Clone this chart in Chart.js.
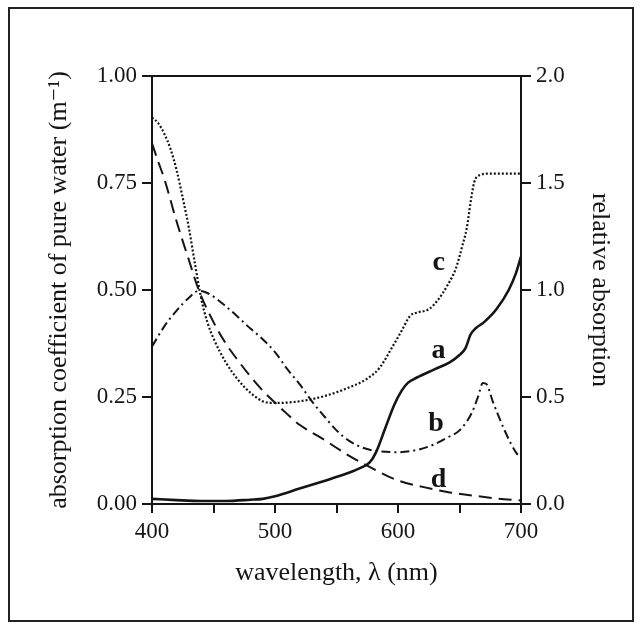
<!DOCTYPE html>
<html><head><meta charset="utf-8">
<script src="https://cdn.jsdelivr.net/npm/chart.js@4.4.0/dist/chart.umd.min.js"></script>
<style>html,body{margin:0;padding:0;background:#fff;}</style>
</head><body>
<canvas id="c" width="642" height="630" style="width:642px;height:630px;display:block"></canvas>
<script>
// a: absorption coefficient of pure water (m^-1), left axis
const waveA  = [400,420,440,460,480,490,500,520,540,560,570,577,582,590,597,603,608,615,630,642,650,655,659,663,670,680,690,696,700];
const waterA = [0.012,0.009,0.007,0.007,0.010,0.012,0.018,0.036,0.054,0.073,0.085,0.097,0.120,0.180,0.232,0.265,0.283,0.295,0.315,0.331,0.348,0.365,0.396,0.410,0.425,0.455,0.500,0.540,0.578];
// b: relative absorption (right axis)
const waveB = [400,410,420,430,438,445,460,480,490,500,510,520,530,540,550,560,570,580,600,618,630,640,650,660,665,669,672,677,687,696,700];
const relB  = [0.736,0.830,0.904,0.964,0.996,0.986,0.924,0.820,0.770,0.710,0.630,0.560,0.480,0.410,0.344,0.296,0.266,0.250,0.242,0.256,0.280,0.310,0.344,0.426,0.500,0.566,0.560,0.480,0.340,0.240,0.216];
// c: relative absorption (right axis)
const waveC = [400,405,410,415,420,425,430,435,440,445,450,460,470,480,490,500,520,540,560,575,585,595,603,610,615,625,632,640,647,652,656,659,662,666,675,700];
const relC  = [1.806,1.780,1.730,1.660,1.560,1.430,1.290,1.120,0.960,0.850,0.774,0.662,0.580,0.520,0.480,0.472,0.480,0.504,0.544,0.586,0.636,0.730,0.810,0.880,0.894,0.910,0.950,1.020,1.100,1.200,1.292,1.410,1.504,1.536,1.544,1.544];
// d: relative absorption (right axis)
const waveD = [400,405,410,420,430,438,450,460,470,480,490,500,510,520,540,560,580,600,620,640,660,680,700];
const relD  = [1.686,1.600,1.520,1.320,1.140,1.000,0.850,0.750,0.670,0.596,0.530,0.474,0.420,0.370,0.300,0.226,0.164,0.110,0.080,0.056,0.040,0.026,0.016];

const xTicks = [400,500,600,700];
const curveNames  = ['c','a','b','d'];
const curveLabelX = [633,633,631,633];
const curveLabelY = [0.547,0.341,0.171,0.040];

const INK = '#151515';
const SERIF = '"Liberation Serif","DejaVu Serif",serif';

const pts = (xs, ys) => xs.map((x,i)=>({x, y: ys[i]}));

const framePlugin = {
  id: 'frame',
  beforeDraw(chart){
    const ctx = chart.ctx;
    ctx.save(); ctx.fillStyle='#fff'; ctx.fillRect(0,0,chart.width,chart.height); ctx.restore();
  },
  afterDraw(chart){
    const ctx = chart.ctx, xs = chart.scales.x, ys = chart.scales.y;
    ctx.save();
    ctx.strokeStyle = '#222'; ctx.lineWidth = 2;
    ctx.strokeRect(9, 8, 624, 613);
    // top border of plot box
    ctx.strokeStyle = INK; ctx.lineWidth = 2;
    ctx.beginPath();
    ctx.moveTo(xs.getPixelForValue(400)-1, ys.getPixelForValue(1));
    ctx.lineTo(xs.getPixelForValue(700)+1, ys.getPixelForValue(1));
    ctx.stroke();
    // curve letters
    ctx.fillStyle = INK;
    ctx.font = 'bold 28px ' + SERIF;
    ctx.textAlign = 'center'; ctx.textBaseline = 'alphabetic';
    curveNames.forEach((n,i)=>{
      ctx.fillText(n, xs.getPixelForValue(curveLabelX[i]), ys.getPixelForValue(curveLabelY[i]));
    });
    ctx.restore();
  }
};

const axisCommon = {
  grid: { display: true, drawOnChartArea: false, drawTicks: true, tickLength: 10, color: INK, lineWidth: 2 },
  border: { display: true, color: INK, width: 2 },
};

new Chart(document.getElementById('c'), {
  type: 'line',
  data: {
    datasets: [
      { label:'a', data: pts(waveA, waterA), yAxisID:'y', borderColor: INK, borderWidth: 2.6, pointRadius: 0, cubicInterpolationMode:'monotone', fill:false },
      { label:'b', data: pts(waveB, relB), yAxisID:'y2', borderColor: INK, borderWidth: 2, borderDash:[9,4,2,4], pointRadius: 0, cubicInterpolationMode:'monotone', fill:false },
      { label:'c', data: pts(waveC, relC), yAxisID:'y2', borderColor: INK, borderWidth: 2.2, borderDash:[2,2], pointRadius: 0, cubicInterpolationMode:'monotone', fill:false },
      { label:'d', data: pts(waveD, relD), yAxisID:'y2', borderColor: INK, borderWidth: 2, borderDash:[13,7], pointRadius: 0, cubicInterpolationMode:'monotone', fill:false },
    ]
  },
  options: {
    responsive: false, animation: false, devicePixelRatio: 1,
    layout: { padding: { left: 40, top: 76, right: 26, bottom: 36 } },
    plugins: { legend: { display: false }, tooltip: { enabled: false } },
    scales: {
      x: {
        type: 'linear', min: 400, max: 700, position: 'bottom',
        afterFit(s){ s.height = 90; },
        grid: { ...axisCommon.grid, tickLength: 9 }, border: axisCommon.border,
        ticks: { stepSize: 50, autoSkip: false, maxRotation: 0, padding: 5, color: INK,
          font: { family: SERIF, size: 23 },
          callback: v => xTicks.includes(v) ? String(v) : '' },
        title: { display: true, text: 'wavelength, λ (nm)', color: INK, padding: { top: 0, bottom: 5 },
          font: { family: SERIF, size: 26 } }
      },
      y: {
        type: 'linear', min: 0, max: 1, position: 'left',
        afterFit(s){ s.width = 112; },
        ...axisCommon,
        ticks: { stepSize: 0.25, padding: 5, color: INK, font: { family: SERIF, size: 23 }, callback: v => v.toFixed(2) },
        title: { display: true, text: 'absorption coefficient of pure water (m⁻¹)', color: INK, padding: { top: 4, bottom: 0 },
          font: { family: SERIF, size: 26 } }
      },
      y2: {
        type: 'linear', min: 0, max: 2, position: 'right',
        afterFit(s){ s.width = 95; },
        ...axisCommon,
        ticks: { stepSize: 0.5, padding: 5, color: INK, font: { family: SERIF, size: 23 }, callback: v => v.toFixed(1) },
        title: { display: true, text: 'relative absorption', color: INK, padding: { top: 1, bottom: 0 },
          font: { family: SERIF, size: 26 } }
      }
    }
  },
  plugins: [framePlugin]
});
</script>
</body></html>
